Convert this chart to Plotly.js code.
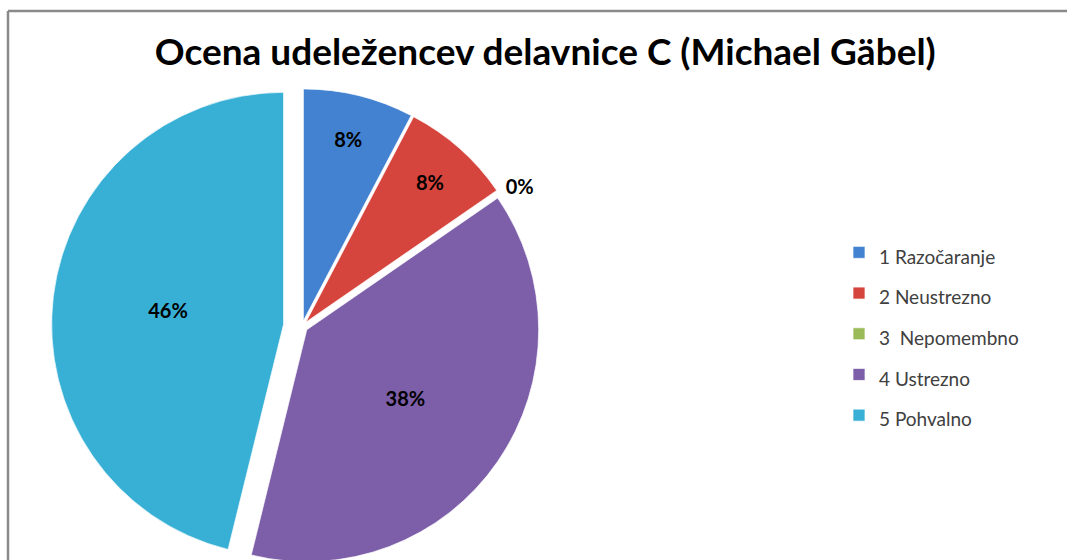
<!DOCTYPE html>
<html>
<head>
<meta charset="utf-8">
<script src="https://cdn.plot.ly/plotly-3.0.1.min.js"></script>
<style>
  html, body { margin: 0; padding: 0; background: #fff; overflow: hidden; }
</style>
</head>
<body>
<div id="chart" style="width:1067px;height:580px;"></div>
<script>
// ocene udelezencev, delavnica C (13 odgovorov)
var labels = ["1 Razočaranje", "2 Neustrezno", "3  Nepomembno", "4 Ustrezno", "5 Pohvalno"];
var counts = [1, 1, 0, 5, 6];
var colors = ["#4282d0", "#d6453d", "#9bbb59", "#7d5ea8", "#38b0d6"];
var pulls = [0.025, 0.025, 0, 0.025, 0.08];
var textPos = ["inside", "inside", "outside", "inside", "inside"];

var W = 1067, H = 580; // a bit taller than the window, bottom is cut off like the original

// legend line height comes from legend font size, so labels get a smaller span
var legendLabels = labels.map(function (l) {
  return '<span style="font-size:19px">' + l + "</span>";
});

var data = [
  {
    type: "pie",
    labels: legendLabels,
    values: counts,
    sort: false,
    direction: "clockwise",
    rotation: 0,
    pull: pulls,
    texttemplate: "%{percent:.0%}",
    textposition: textPos,
    insidetextorientation: "horizontal",
    textfont: { family: "Lato, 'Open Sans', sans-serif", size: 20, color: "#000", weight: "bold" },
    outsidetextfont: { family: "Lato, 'Open Sans', sans-serif", size: 20, color: "#000", weight: "bold" },
    marker: { colors: colors, line: { color: "rgba(255,255,255,0.7)", width: 1 } },
    domain: { x: [51 / W, 553 / W], y: [1 - 577 / H, 1 - 76 / H] },
    hoverinfo: "label+percent",
  },
];

var layout = {
  width: W,
  height: H,
  margin: { l: 0, r: 0, t: 0, b: 0 },
  paper_bgcolor: "#fff",
  font: { family: "Lato, 'Open Sans', sans-serif", color: "#404040" },
  title: {
    text: "<b>Ocena udeležencev delavnice C (Michael Gäbel)</b>",
    font: { family: "Lato, 'Open Sans', sans-serif", size: 37, color: "#000" },
    x: 0.511,
    xanchor: "center",
    y: 1 - 52 / H,
    yanchor: "middle",
  },
  showlegend: true,
  legend: {
    x: 839 / W,
    xanchor: "left",
    y: 1 - 334 / H,
    yanchor: "middle",
    font: { size: 29, color: "#404040" },
    bgcolor: "rgba(0,0,0,0)",
  },
  shapes: [
    { type: "line", xref: "paper", yref: "paper", x0: 8 / W, x1: 8 / W, y0: 0, y1: 1 - 11 / H, line: { color: "#8a8a8a", width: 2.5 } },
    { type: "line", xref: "paper", yref: "paper", x0: 8 / W, x1: 1, y0: 1 - 11 / H, y1: 1 - 11 / H, line: { color: "#8a8a8a", width: 2.5 } },
  ],
};

Plotly.newPlot("chart", data, layout, { displayModeBar: false }).then(function () {
  // the original has no leader line to the 0% label
  document.querySelectorAll("#chart path.textline").forEach(function (p) {
    p.remove();
  });
});
</script>
</body>
</html>
